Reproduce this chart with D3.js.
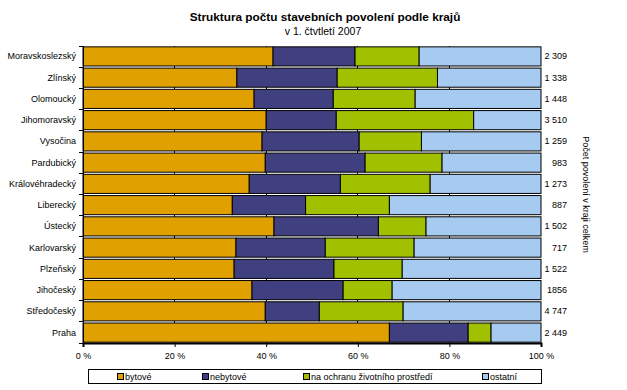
<!DOCTYPE html>
<html><head><meta charset="utf-8">
<script src="https://cdn.jsdelivr.net/npm/d3@7"></script>
<style>body{margin:0;background:#fff}svg{display:block}text{font-family:"Liberation Sans",Arial,sans-serif}</style>
</head><body><svg id="c" width="627" height="390"></svg>
<script>
const categories = ["Moravskoslezský","Zlínský","Olomoucký","Jihomoravský","Vysočina","Pardubický","Královéhradecký","Liberecký","Ústecký","Karlovarský","Plzeňský","Jihočeský","Středočeský","Praha"];
const bytove    = [41.5,33.6,37.4,40.0,39.1,39.8,36.3,32.6,41.7,33.4,33.0,36.9,39.8,66.9];
const nebytove  = [17.9,21.9,17.3,15.3,21.2,21.8,19.9,16.0,22.8,19.5,21.8,19.9,11.8,17.2];
const zivotni   = [14.0,21.9,17.9,30.0,13.6,16.8,19.6,18.3,10.4,19.4,14.9,10.7,18.3,5.0];
const ostatni   = [26.6,22.6,27.5,14.7,26.1,21.6,24.2,33.1,25.1,27.7,30.3,32.5,30.1,10.9];
const totals    = ["2 309","1 338","1 448","3 510","1 259","983","1 273","887","1 502","717","1 522","1856","4 747","2 449"];
const seriesNames = ["bytové","nebytové","na ochranu životního prostředí","ostatní"];
const colors = ["#E0A000","#404080","#A0C000","#A6CAF0"];
const xTicks = [0,20,40,60,80,100];

const svg = d3.select("#c");
const L=83, R=541, T=46, B=343;
const x = d3.scaleLinear().domain([0,100]).range([L,R]);
const y = d3.scaleBand().domain(categories).range([T,B]).paddingInner(0.1).paddingOuter(0.04);

// title
svg.append("text").attr("x",325).attr("y",21).attr("text-anchor","middle")
  .attr("font-size",11.8).attr("font-weight","bold").text("Struktura počtu stavebních povolení podle krajů");
svg.append("text").attr("x",323).attr("y",35).attr("text-anchor","middle")
  .attr("font-size",10.5).text("v 1. čtvtletí 2007");

// gridlines
svg.append("g").selectAll("line").data(xTicks.slice(1,5)).join("line")
  .attr("x1",d=>x(d)).attr("x2",d=>x(d)).attr("y1",T).attr("y2",B)
  .attr("stroke","#000").attr("stroke-width",1).attr("shape-rendering","crispEdges");

// stacked bars
const rows = categories.map((c,i)=>({cat:c, v:[bytove[i],nebytove[i],zivotni[i],ostatni[i]]}));
const data = rows.map(r=>{const s=d3.sum(r.v); return {cat:r.cat, v:r.v.map(d=>d/s*100)};});
const stacked = d3.stack().keys([0,1,2,3]).value((d,k)=>d.v[k])(data);
svg.append("g").selectAll("g").data(stacked).join("g").attr("fill",(d,i)=>colors[i])
  .selectAll("rect").data(d=>d).join("rect")
  .attr("x",d=>x(d[0])).attr("width",d=>x(d[1])-x(d[0]))
  .attr("y",d=>y(d.data.cat)).attr("height",y.bandwidth())
  .attr("stroke","#000").attr("stroke-width",1);

// left axis
const yAxis = svg.append("g").attr("transform",`translate(${L},0)`);
yAxis.append("line").attr("x1",0).attr("x2",0).attr("y1",T).attr("y2",B).attr("stroke","#000").attr("shape-rendering","crispEdges");
const bounds = categories.map(c=>y(c)-y.step()*y.paddingInner()/2).concat([B]);
bounds[0]=T;
yAxis.selectAll("line.t").data(bounds).join("line").attr("class","t")
  .attr("x1",-4).attr("x2",0).attr("y1",d=>d).attr("y2",d=>d).attr("stroke","#000").attr("shape-rendering","crispEdges");
yAxis.selectAll("text").data(categories).join("text")
  .attr("x",-7).attr("y",d=>y(d)+y.bandwidth()/2+3).attr("text-anchor","end")
  .attr("font-size",9).text(d=>d);

// bottom axis
const xAxis = svg.append("g").attr("transform",`translate(0,${B})`)
  .call(d3.axisBottom(x).tickValues(xTicks).tickSize(4).tickFormat(d=>d+" %"));
xAxis.select(".domain").attr("stroke","#000").attr("stroke-width",2);
xAxis.selectAll(".tick line").attr("stroke","#000");
xAxis.selectAll("text").attr("font-size",9).attr("font-family","Liberation Sans, Arial").attr("fill","#000").attr("dy","0.95em");

// totals
svg.append("g").selectAll("text").data(categories).join("text")
  .attr("x",567).attr("y",d=>y(d)+y.bandwidth()/2+3).attr("text-anchor","end")
  .attr("font-size",9).text((d,i)=>totals[i]);
svg.append("text").attr("transform",`translate(583,${(T+B)/2}) rotate(90)`)
  .attr("text-anchor","middle").attr("font-size",9).text("Počet povolení v kraji celkem");

// legend
const lg = svg.append("g");
lg.append("rect").attr("x",88.5).attr("y",369.5).attr("width",453).attr("height",14)
  .attr("fill","#fff").attr("stroke","#000");
const lx = [117,202,303,482];
seriesNames.forEach((n,i)=>{
  lg.append("rect").attr("x",lx[i]+0.5).attr("y",373.5).attr("width",6).attr("height",6)
    .attr("fill",colors[i]).attr("stroke","#000");
  lg.append("text").attr("x",lx[i]+8).attr("y",380).attr("font-size",9).text(n);
});
</script></body></html>
